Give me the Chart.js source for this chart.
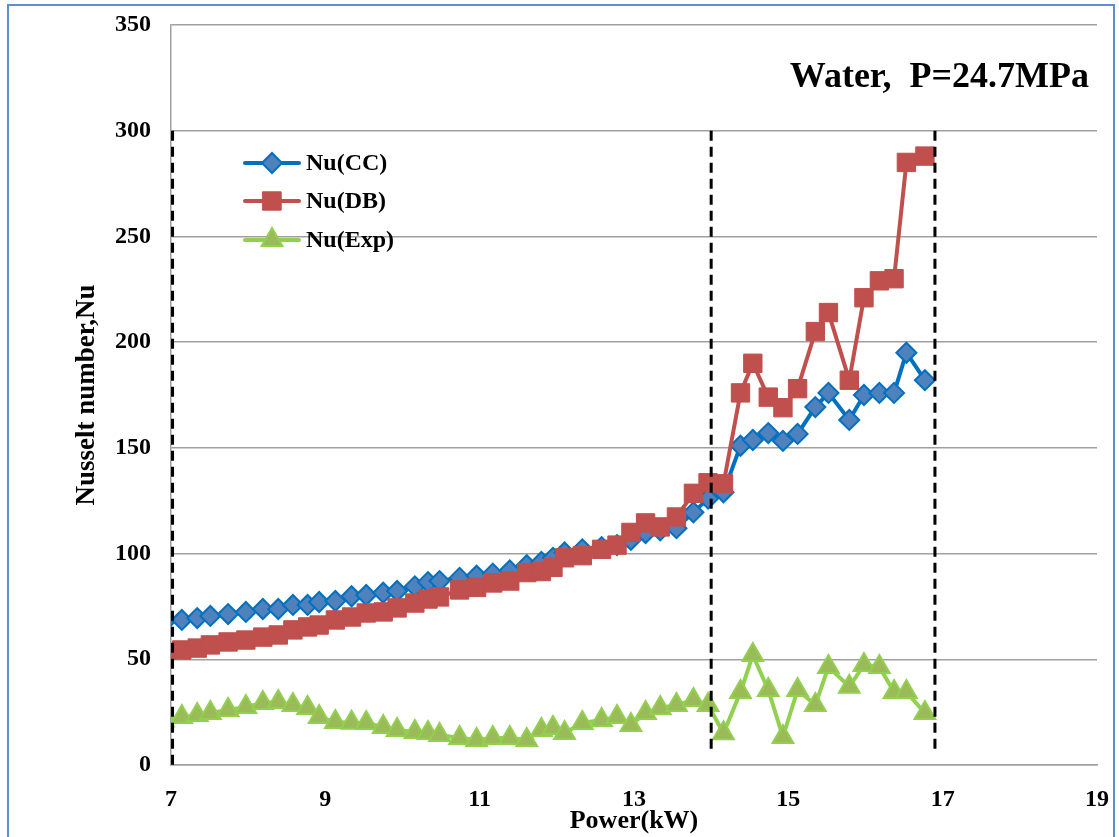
<!DOCTYPE html>
<html>
<head>
<meta charset="utf-8">
<title>Nusselt number vs Power</title>
<script src="https://cdn.jsdelivr.net/npm/chart.js@4.4.1/dist/chart.umd.min.js"></script>
<style>
  html, body { margin: 0; padding: 0; background: #fff; overflow: hidden; }
  #wrap { position: relative; width: 1119px; height: 837px; }
  #frame {
    position: absolute; left: 7px; top: 4px; width: 1104px; height: 880px;
    border: 2px solid #5b8fd0; pointer-events: none;
  }
</style>
</head>
<body>
<div id="wrap">
  <canvas id="nuChart" width="1119" height="837"></canvas>
  <div id="frame"></div>
</div>
<script>
// Heating power (kW) shared by all three series
const powerKW = [6.9, 7.14, 7.34, 7.51, 7.74, 7.97, 8.19, 8.39, 8.58, 8.77, 8.92,
  9.13, 9.34, 9.53, 9.75, 9.93, 10.16, 10.33, 10.48, 10.74, 10.96,
  11.17, 11.39, 11.61, 11.80, 11.95, 12.10, 12.33, 12.58, 12.78, 12.96,
  13.15, 13.34, 13.55, 13.77, 13.96, 14.16, 14.38, 14.54, 14.74, 14.93,
  15.12, 15.35, 15.52, 15.79, 15.98, 16.18, 16.37, 16.53, 16.77];

const nuCC = [67, 68.6, 69.5, 70.5, 71.4, 72.4, 73.8, 73.8, 75.7, 75.7, 77.1,
  77.6, 79.8, 80.4, 81.5, 82.3, 84.5, 86.5, 87, 88.5, 89.5,
  90.5, 92, 94.5, 96, 98, 100.5, 102, 103, 104, 106.5,
  109.7, 111, 112, 119.5, 126, 129, 151, 153.7, 157, 153.3,
  156.6, 169.3, 176, 163.2, 175, 176, 176, 195, 182];

const nuDB = [52, 54.4, 55.3, 56.8, 58.2, 59.1, 60.5, 61.5, 63.9, 65.3, 66.2,
  68.6, 70, 71.9, 72.4, 74.3, 76.6, 78.5, 79.5, 82.8, 84,
  86.1, 87, 91, 91.5, 93.5, 98, 99, 102, 104, 110,
  114.5, 112.6, 117.3, 128.5, 133.5, 133, 176, 190, 174, 169,
  178, 205, 214, 182, 221, 229, 230, 285, 288];

const nuExp = [21, 22.7, 23.7, 24.6, 26, 27.4, 29.3, 29.8, 28.4, 27, 22.7,
  20.3, 20, 19.9, 18, 16.6, 15.6, 15.1, 14.2, 12.8, 11.8,
  12.8, 12.8, 11.8, 16.6, 17.5, 15.1, 19.9, 21.3, 22.7, 18.9,
  24.6, 27, 28.4, 30.7, 28.4, 15, 34.5, 52, 35.5, 13.3,
  35.5, 28.4, 46.4, 37, 47.3, 46.4, 34.5, 34.5, 24.6];

// Dashed guide lines (power, top Nu, bottom Nu)
const guideX = [7.02, 14.0, 16.9];
const guideTop = [300, 300, 300];
const guideBottom = [0, 5, 5];

const seriesLabels = ['Nu(CC)', 'Nu(DB)', 'Nu(Exp)'];
const chartNote = 'Water,  P=24.7MPa';

const serif = '"Liberation Serif", "Times New Roman", serif';

function toPoints(ys) {
  return powerKW.map((p, i) => ({ x: p, y: ys[i] }));
}

const seriesStyles = [
  { line: '#0070c0', fill: '#4f81bd', edge: '#0070c0', style: 'rectRot', radius: 10, edgeWidth: 2, order: 2 },
  { line: '#c0504d', fill: '#c0504d', edge: '#c0504d', style: 'rect', radius: 13, edgeWidth: 1, order: 1 },
  { line: '#92d050', fill: '#9bbb59', edge: '#92d050', style: 'triangle', radius: 12, edgeWidth: 2, order: 3 }
];

const seriesData = [nuCC, nuDB, nuExp];

const datasets = seriesData.map((ys, i) => {
  const s = seriesStyles[i];
  return {
    label: seriesLabels[i],
    data: toPoints(ys),
    borderColor: s.line,
    borderWidth: 4,
    backgroundColor: s.fill,
    pointStyle: s.style,
    pointRadius: s.radius,
    pointBackgroundColor: s.fill,
    pointBorderColor: s.edge,
    pointBorderWidth: s.edgeWidth,
    tension: 0,
    order: s.order,
    clip: { left: 0, top: false, right: false, bottom: false },
    isSeries: true
  };
});

guideX.forEach((gx, i) => {
  datasets.push({
    label: 'guide' + i,
    data: [{ x: gx, y: guideTop[i] }, { x: gx, y: guideBottom[i] }],
    borderColor: '#000',
    borderWidth: 3,
    borderDash: [10, 6],
    pointRadius: 0,
    order: 0
  });
});

// Legend drawn inside the plot, Excel-style
const insideLegend = {
  id: 'insideLegend',
  afterDraw(chart) {
    const ctx = chart.ctx;
    const rows = [163, 201, 240];
    ctx.save();
    chart.data.datasets.filter(d => d.isSeries).forEach((d, i) => {
      const y = rows[i];
      ctx.strokeStyle = d.borderColor;
      ctx.lineWidth = 4;
      ctx.lineCap = 'round';
      ctx.beginPath();
      ctx.moveTo(245, y);
      ctx.lineTo(299, y);
      ctx.stroke();
      ctx.fillStyle = d.pointBackgroundColor;
      ctx.strokeStyle = d.pointBorderColor;
      ctx.lineWidth = d.pointBorderWidth;
      Chart.helpers.drawPoint(ctx, {
        pointStyle: d.pointStyle,
        radius: d.pointRadius,
        rotation: 0,
        borderWidth: d.pointBorderWidth
      }, 272, y);
      ctx.fillStyle = '#000';
      ctx.font = 'bold 24px ' + serif;
      ctx.textBaseline = 'middle';
      ctx.textAlign = 'left';
      ctx.fillText(d.label, 306, y + 1);
    });
    ctx.restore();
  }
};

const noteText = {
  id: 'noteText',
  afterDraw(chart) {
    const ctx = chart.ctx;
    ctx.save();
    ctx.fillStyle = '#000';
    ctx.font = 'bold 36px ' + serif;
    ctx.textAlign = 'right';
    ctx.textBaseline = 'alphabetic';
    ctx.fillText(chartNote, 1089, 87);
    ctx.restore();
  }
};

new Chart(document.getElementById('nuChart'), {
  type: 'line',
  data: { datasets },
  options: {
    responsive: false,
    animation: false,
    events: [],
    layout: { padding: { top: 25, right: 22, left: 0, bottom: 0 } },
    plugins: {
      legend: { display: false },
      tooltip: { enabled: false }
    },
    scales: {
      x: {
        type: 'linear',
        min: 7,
        max: 19,
        afterFit(scale) {
          scale.height = 72;
          scale.paddingLeft = 0;
          scale.paddingRight = 0;
        },
        grid: { display: false, drawTicks: false },
        border: { display: true, color: '#a0a0a0', width: 1.5 },
        ticks: {
          stepSize: 2,
          padding: 20,
          color: '#000',
          font: { family: serif, size: 24, weight: 'bold' }
        },
        title: {
          display: true,
          text: 'Power(kW)',
          color: '#000',
          padding: { top: 0, bottom: 0 },
          font: { family: serif, size: 26, weight: 'bold' }
        }
      },
      y: {
        min: 0,
        max: 350,
        afterFit(scale) {
          scale.width = 171;
          scale.paddingTop = 0;
          scale.paddingBottom = 0;
        },
        grid: { color: '#a0a0a0', lineWidth: 1.5, drawTicks: false },
        border: { display: true, color: '#a0a0a0', width: 1.5 },
        ticks: {
          stepSize: 50,
          padding: 20,
          color: '#000',
          font: { family: serif, size: 24, weight: 'bold' }
        },
        title: {
          display: true,
          text: 'Nusselt number,Nu',
          color: '#000',
          padding: { top: 71, bottom: 0 },
          font: { family: serif, size: 27, weight: 'bold' }
        }
      }
    }
  },
  plugins: [insideLegend, noteText]
});
</script>
</body>
</html>
